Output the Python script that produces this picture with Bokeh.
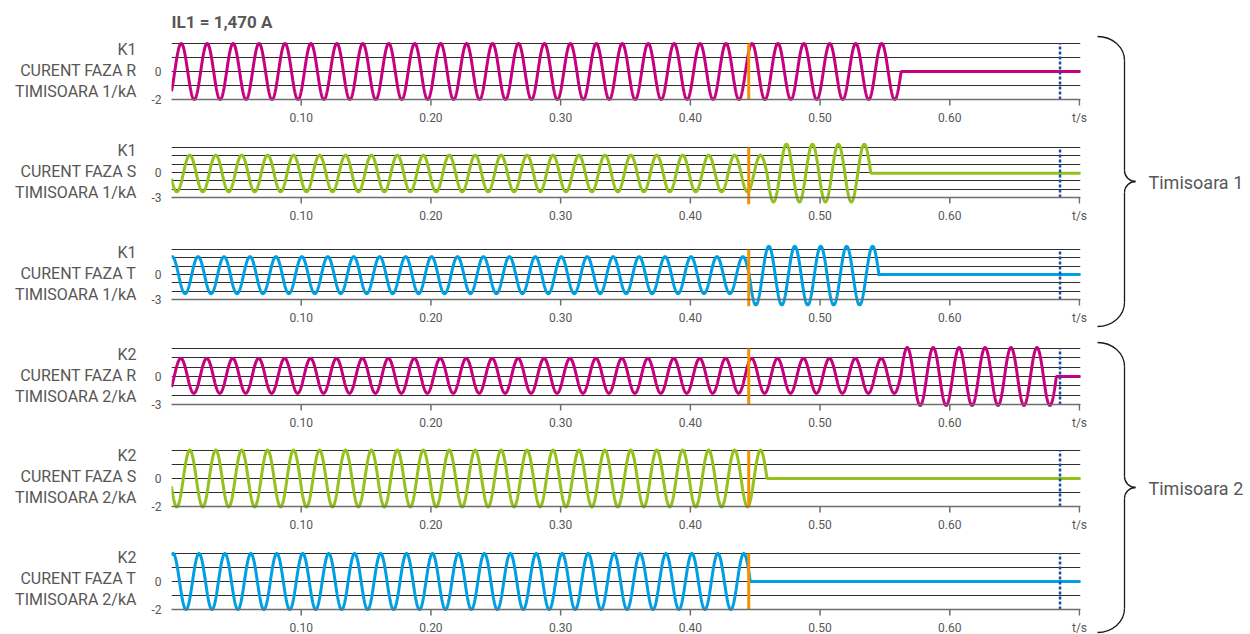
import numpy as np
from bokeh.plotting import figure
from bokeh.layouts import column, row
from bokeh.models import Range1d, FixedTicker, Span
from bokeh.core.properties import value
from bokeh.embed import file_html
from bokeh.resources import INLINE

# ---------------- data ----------------
title_text = "IL1 = 1,470 A"
panel_labels = [
    "K1\nCURENT FAZA R\nTIMISOARA 1/kA",
    "K1\nCURENT FAZA S\nTIMISOARA 1/kA",
    "K1\nCURENT FAZA T\nTIMISOARA 1/kA",
    "K2\nCURENT FAZA R\nTIMISOARA 2/kA",
    "K2\nCURENT FAZA S\nTIMISOARA 2/kA",
    "K2\nCURENT FAZA T\nTIMISOARA 2/kA",
]
panel_phase = ["R", "S", "T", "R", "S", "T"]
y_min = [-2, -3, -3, -3, -2, -2]
y_max = [2, 3, 3, 3, 2, 2]
x_ticks = [0.1, 0.2, 0.3, 0.4, 0.5, 0.6, 0.7]
x_tick_labels = ["0.10", "0.20", "0.30", "0.40", "0.50", "0.60", "t/s"]
t_end = 0.70
freq_hz = 50
# time of a current peak (s, modulo one period) for each trace
peak_time = [0.0075, 0.0141, 0.0005, 0.0072, 0.0141, 0.0012]
# sinusoidal segments of each trace: start, end (s), amplitude and offset (kA)
seg_start = [[0.0], [0.0, 0.4591], [0.0, 0.4455], [0.0, 0.5622], [0.0], [0.0]]
seg_end = [[0.5625], [0.4591, 0.5391], [0.4455, 0.5455], [0.5622, 0.6822], [0.4591], [0.4462]]
seg_amp = [[2.0], [2.2, 3.47], [2.22, 3.52], [1.87, 3.1], [2.03], [2.0]]
seg_offset = [[0.0], [-0.12, -0.07], [-0.08, -0.14], [0.07, 0.0], [0.0], [0.0]]
# value after the breaker has opened
flat_value = [0.0, -0.1, 0.0, 0.0, 0.0, 0.0]
fault_time = 0.445
trip_time = 0.685
group_names = ["Timisoara 1", "Timisoara 2"]

# ---------------- styles / layout ----------------
phase_color = {"R": "#c6007e", "S": "#95c11f", "T": "#009fe3"}
FONT = "Roboto"
TXT = "#575756"
AXC = "#6e6e6e"
GRID_TOP = [43, 147, 249, 348, 449, 551]     # pixel rows of the y_max lines
GRID_BOT = [99, 197, 299, 404, 505, 607]     # pixel rows of the y_min lines
PAD_TOP = [3, 5, 5, 3, 3, 3]
PAD_BOT = [7, 7, 7, 7, 7, 7]
ORANGE_LOW_PX = [0, 7, 7, 0, 0, 0]
FIG_BOUNDS = [0, 128, 230, 330, 431, 532, 634]
FRAME_X0 = 171
FRAME_W = 909
PX_PER_S = 908 / 0.70
YAX_W = 30
RIGHT = 12
LABEL_RIGHT_X = 136
LABEL_TOP_OFFSET = 32
BRACE_TOP = [36, 342]
BRACE_BOT = [326, 632]
TOTAL_W = 1250
H = FIG_BOUNDS[-1] - FIG_BOUNDS[0]


def trace(i):
    ts, ys = [], []
    w = 2 * np.pi * freq_hz
    for s, e, a, o in zip(seg_start[i], seg_end[i], seg_amp[i], seg_offset[i]):
        t = np.append(np.arange(s, e, 0.0002), e)
        ts.append(t)
        ys.append(o + a * np.cos(w * (t - peak_time[i])))
    last = seg_end[i][-1]
    ts.append(np.array([last, t_end + 0.003]))
    ys.append(np.array([flat_value[i], flat_value[i]]))
    return np.concatenate(ts), np.concatenate(ys)


def pixel_fig(width):
    f = figure(frame_width=width, frame_height=H, x_range=Range1d(0, width),
               y_range=Range1d(H, 0), min_border=0, output_backend="svg",
               toolbar_location=None, x_axis_type=None, y_axis_type=None,
               outline_line_color=None, background_fill_color="white",
               border_fill_color="white")
    f.xgrid.visible = False
    f.ygrid.visible = False
    return f


panels = []
for i in range(6):
    ft = GRID_TOP[i] - PAD_TOP[i]
    fb = GRID_BOT[i] + PAD_BOT[i]
    bt = ft - FIG_BOUNDS[i]
    bb = FIG_BOUNDS[i + 1] - fb
    scale = (GRID_BOT[i] - GRID_TOP[i]) / (y_max[i] - y_min[i])
    ys0 = y_min[i] - PAD_BOT[i] / scale
    ys1 = y_max[i] + PAD_TOP[i] / scale
    p = figure(frame_width=FRAME_W, frame_height=fb - ft,
               min_border_left=YAX_W, min_border_right=RIGHT,
               min_border_top=bt, min_border_bottom=bb,
               x_range=Range1d(0, FRAME_W / PX_PER_S), y_range=Range1d(ys0, ys1),
               output_backend="svg", toolbar_location=None,
               outline_line_color=None, background_fill_color="white",
               border_fill_color="white")
    if i == 0:
        p.title.text = title_text
        p.title.text_font = FONT
        p.title.text_font_size = "17px"
        p.title.text_font_style = "bold"
        p.title.text_color = TXT
        p.title.align = "left"
        p.title.standoff = 18
    p.xgrid.visible = False
    p.ygrid.ticker = FixedTicker(ticks=list(range(y_min[i], y_max[i] + 1)))
    p.ygrid.grid_line_color = "#2e2e2e"
    p.ygrid.grid_line_width = 1.2
    p.add_layout(Span(location=y_min[i], dimension="width", line_color=AXC, line_width=1.5))

    xa = p.xaxis[0]
    xa.ticker = FixedTicker(ticks=x_ticks)
    xa.major_label_overrides = {t: l for t, l in zip(x_ticks, x_tick_labels)}
    xa.axis_line_color = None
    xa.major_tick_line_color = None
    xa.minor_tick_line_color = None
    xa.major_tick_out = 0
    xa.major_tick_in = 0
    xa.major_label_standoff = 4
    xa.major_label_text_font = FONT
    xa.major_label_text_font_size = "12px"
    xa.major_label_text_color = TXT

    ya = p.yaxis[0]
    ya.ticker = FixedTicker(ticks=[0, y_min[i]])
    ya.major_label_overrides = {0: "0", y_min[i]: str(y_min[i])}
    ya.axis_line_color = None
    ya.major_tick_line_color = None
    ya.minor_tick_line_color = None
    ya.major_tick_out = 0
    ya.major_tick_in = 0
    ya.major_label_standoff = 10
    ya.major_label_text_font = FONT
    ya.major_label_text_font_size = "12px"
    ya.major_label_text_color = TXT

    # tick marks below the axis line
    p.segment(x0=x_ticks, y0=[y_min[i]] * len(x_ticks), x1=x_ticks,
              y1=[y_min[i] - 6 / scale] * len(x_ticks), line_color=AXC, line_width=1.5)

    tx, ty = trace(i)
    p.line(tx, ty, line_color=phase_color[panel_phase[i]], line_width=3)
    p.segment(x0=[fault_time], y0=[y_min[i] - ORANGE_LOW_PX[i] / scale], x1=[fault_time],
              y1=[y_max[i]], line_color="#f39200", line_width=3)
    p.segment(x0=[trip_time], y0=[y_min[i]], x1=[trip_time], y1=[y_max[i]],
              line_color="#1d4c9a", line_width=2.5, line_dash="3 2")
    panels.append(p)

# ---------------- left captions ----------------
lab_w = FRAME_X0 - YAX_W
lf = pixel_fig(lab_w)
zero_rows = [GRID_TOP[i] + (GRID_BOT[i] - GRID_TOP[i]) * y_max[i] / (y_max[i] - y_min[i])
             for i in range(6)]
lf.text(x=[LABEL_RIGHT_X] * 6, y=[z - LABEL_TOP_OFFSET for z in zero_rows], text=panel_labels,
        text_align="right", text_baseline="top", text_font=value(FONT),
        text_font_size="16px", text_color=TXT, text_line_height=1.12)

# ---------------- braces ----------------
bx0 = FRAME_X0 + FRAME_W + RIGHT   # x of brace figure left edge
bw = TOTAL_W - bx0
bp = pixel_fig(bw)
xe, xv, xt = 1097 - bx0, 1124 - bx0, 1135 - bx0
k = 0.5523
r, r2 = 24, 11
for g in range(2):
    yt = BRACE_TOP[g]
    yb = BRACE_BOT[g]
    ym = (yt + yb) / 2
    w = xv - xe
    bz = dict(x0=[], y0=[], x1=[], y1=[], cx0=[], cy0=[], cx1=[], cy1=[])
    curves = [
        ((xe, yt), (xe + k * w, yt), (xv, yt + r - k * r), (xv, yt + r)),
        ((xv, ym - r2), (xv, ym - r2 + k * r2), (xt - k * (xt - xv), ym), (xt, ym)),
        ((xt, ym), (xt - k * (xt - xv), ym), (xv, ym + r2 - k * r2), (xv, ym + r2)),
        ((xv, yb - r), (xv, yb - r + k * r), (xe + k * w, yb), (xe, yb)),
    ]
    for (a, c0, c1, b) in curves:
        bz["x0"].append(a[0]); bz["y0"].append(a[1])
        bz["cx0"].append(c0[0]); bz["cy0"].append(c0[1])
        bz["cx1"].append(c1[0]); bz["cy1"].append(c1[1])
        bz["x1"].append(b[0]); bz["y1"].append(b[1])
    bp.bezier(line_color="#1a1a1a", line_width=1.3, **bz)
    bp.segment(x0=[xv, xv], y0=[yt + r, ym + r2], x1=[xv, xv], y1=[ym - r2, yb - r],
               line_color="#1a1a1a", line_width=1.3)
    bp.text(x=[1148 - bx0], y=[ym + 1], text=[group_names[g]], text_align="left",
            text_baseline="middle", text_font=value(FONT), text_font_size="18px",
            text_color=TXT)

layout = row(lf, column(*panels), bp)
open("out.html", "w").write(file_html(layout, INLINE))
